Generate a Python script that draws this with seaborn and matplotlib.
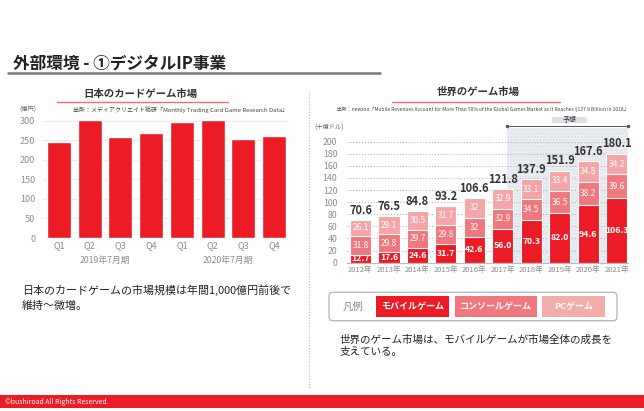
import matplotlib.pyplot as plt
import matplotlib.transforms as mtransforms
from matplotlib.patches import FancyBboxPatch, Rectangle
import numpy as np
import seaborn as sns

sns.set_theme(style='white')
plt.rcParams['font.family'] = ['Noto Sans CJK JP', 'DejaVu Sans']
plt.rcParams['hatch.linewidth'] = 0.5

# %% data
quarters = ['Q1', 'Q2', 'Q3', 'Q4', 'Q1', 'Q2', 'Q3', 'Q4']
periods = ['2019年7月期', '2020年7月期']
card_market = [246, 302, 258, 269, 297, 302, 252, 260]

years = ['2012年', '2013年', '2014年', '2015年', '2016年',
         '2017年', '2018年', '2019年', '2020年', '2021年']
mobile = [12.7, 17.6, 24.6, 31.7, 42.6, 56.0, 70.3, 82.0, 94.6, 106.3]
console = [31.8, 29.8, 29.7, 29.8, 32, 32.9, 34.5, 36.5, 38.2, 39.6]
pc = [26.1, 29.1, 30.5, 31.7, 32, 32.9, 33.1, 33.4, 34.8, 34.2]
totals = [70.6, 76.5, 84.8, 93.2, 106.6, 121.8, 137.9, 151.9, 167.6, 180.1]

RED = '#EC1C26'
CONSOLE = '#F0777D'
PC = '#F5A5A8'
GRAY = '#8C8C8C'

fig = plt.figure(figsize=(6.44, 4.11), dpi=100)
W, H = 644, 411

# %% left chart
axL = fig.add_axes([43 / W, 1 - 238 / H, 246 / W, 120 / H])
keys = [f'{periods[i // 4]} {q}' for i, q in enumerate(quarters)]
sns.barplot(x=keys, y=card_market, color=RED, saturation=1, width=0.78,
            errorbar=None, ax=axL, zorder=2)
axL.set_xlim(-0.52, 7.49)
axL.set_ylim(0, 307)
axL.set_yticks(range(0, 301, 50))
axL.set_xticks(range(8), quarters)
axL.grid(axis='y', color='#EBEBEB', lw=0.8)
axL.set_axisbelow(True)
axL.tick_params(axis='y', labelsize=6.5, colors=GRAY, length=0, pad=5.5)
axL.tick_params(axis='x', labelsize=6.5, colors=GRAY, length=0, pad=2)
axL.set_xlabel('')
axL.set_ylabel('')
for s in axL.spines.values():
    s.set_visible(False)
trL = mtransforms.blended_transform_factory(axL.transData, axL.transAxes)
for i, p in enumerate(periods):
    axL.text(1.5 + 4 * i, -0.185, p, transform=trL, ha='center', va='center',
             fontsize=6.3, color=GRAY)

# %% right chart (stacked by overlapping cumulative bars)
axR = fig.add_axes([347 / W, 1 - 262.7 / H, 281 / W, 134.7 / H])
cum2 = np.array(mobile) + np.array(console)
axR.axvspan(5.15, 9.4, facecolor='#E9ECF1', edgecolor='#D9DEE5',
            hatch='.....', lw=0, zorder=0)
for vals, col in [(totals, PC), (cum2, CONSOLE), (mobile, RED)]:
    sns.barplot(x=years, y=vals, color=col, saturation=1, width=0.74,
                errorbar=None, ax=axR, edgecolor='white', linewidth=0.8,
                zorder=2)
axR.set_xlim(-0.475, 9.4)
axR.set_ylim(0, 222.6)
axR.set_yticks(range(0, 201, 20))
axR.grid(axis='y', color='#AAAAAA', ls=(0, (1, 2)), lw=0.7)
axR.set_axisbelow(True)
axR.tick_params(axis='y', labelsize=6.3, colors=GRAY, length=0, pad=7)
axR.tick_params(axis='x', labelsize=5.5, colors=GRAY, length=0, pad=2.5)
axR.set_xlabel('')
axR.set_ylabel('')
for k, s in axR.spines.items():
    s.set_visible(k == 'bottom')
axR.spines['bottom'].set_color('#BBBBBB')
axR.spines['bottom'].set_linewidth(0.8)

for i in range(len(years)):
    axR.text(i, mobile[i] / 2, f'{mobile[i]:.1f}', ha='center', va='center',
             fontsize=6.3, color='white', fontweight='bold', zorder=5)
    axR.text(i, mobile[i] + console[i] / 2, f'{console[i]:g}', ha='center',
             va='center', fontsize=6, color='white', zorder=5)
    axR.text(i, cum2[i] + pc[i] / 2, f'{pc[i]:g}', ha='center', va='center',
             fontsize=6, color='white', zorder=5)
    axR.annotate(f'{totals[i]:.1f}', (i, totals[i]), xytext=(0, 2.5),
                 textcoords='offset points', ha='center', va='bottom',
                 fontsize=8, fontweight='bold', color='#333333', zorder=5)

# %% overlay in pixel coordinates
ov = fig.add_axes([0, 0, 1, 1], zorder=10)
ov.set_xlim(0, W)
ov.set_ylim(H, 0)
ov.axis('off')
ov.patch.set_visible(False)

ov.text(13, 64, '外部環境 - ①デジタルIP事業', ha='left', va='center',
        fontsize=12, fontweight='bold', color='#222222')
ov.plot([8, 380], [73, 73], color='#777777', lw=1.8)

ov.text(140, 93.5, '日本のカードゲーム市場', ha='center', va='center',
        fontsize=7.5, fontweight='bold', color='#333333')
ov.plot([57, 228], [102, 102], color='#F06E73', lw=1)
ov.text(28, 110, '(億円)', ha='center', va='center', fontsize=4.5, color='#666666')
ov.text(288, 110, '出所：メディアクリエイト総研「Monthly Trading Card Game Research Data」',
        ha='right', va='center', fontsize=4.3, color='#444444')

ov.plot([309, 309], [92, 388], color='#BBBBBB', ls=(0, (1, 1.5)), lw=0.8)

ov.text(22, 290, '日本のカードゲームの市場規模は年間1,000億円前後で',
        ha='left', va='center', fontsize=7.9, color='#222222')
ov.text(22, 306, '維持～微増。', ha='left', va='center', fontsize=7.9,
        color='#222222')

ov.text(478.5, 92.3, '世界のゲーム市場', ha='center', va='center',
        fontsize=7.5, fontweight='bold', color='#333333')
ov.plot([392, 560], [101.7, 101.7], color='#F06E73', lw=1)
ov.text(337, 109, '出所：newzoo「Mobile Revenues Account for More Than 50% of the Global '
        'Games Market as It Reaches $137.9 Billion in 2018」',
        ha='left', va='center', fontsize=3.5, color='#444444')
ov.text(329.5, 128, '(十億ドル)', ha='center', va='center', fontsize=4.5,
        color='#666666')

ov.plot([507, 628], [125.7, 125.7], color='#555555', lw=0.7, marker='o',
        markersize=1.5)
ov.add_patch(Rectangle((552, 116.7), 35, 6.8, fc='#DDE2EA', ec='none'))
ov.text(569.5, 120, '予想', ha='center', va='center', fontsize=5,
        color='#333333')

ov.add_patch(FancyBboxPatch((329, 292.3), 288, 28.4,
                            boxstyle='round,pad=0,rounding_size=4',
                            fc='white', ec='#BBBBBB', lw=1))
ov.text(352.7, 306.5, '凡例', ha='center', va='center', fontsize=7.5,
        color='#888888')
legend_items = [('モバイルゲーム', RED, 375.7, 73.6),
                ('コンソールゲーム', CONSOLE, 455, 81.7),
                ('PCゲーム', '#F2ACA9', 542.3, 62.7)]
for label, col, x0, w in legend_items:
    ov.add_patch(Rectangle((x0, 296), w, 21.3, fc=col, ec='none'))
    ov.text(x0 + w / 2, 306.7, label, ha='center', va='center', fontsize=6.5,
            fontweight='bold', color='white')

ov.text(340, 340, '世界のゲーム市場は、モバイルゲームが市場全体の成長を',
        ha='left', va='center', fontsize=7.6, color='#222222')
ov.text(340, 352, '支えている。', ha='left', va='center', fontsize=7.6,
        color='#222222')

ov.add_patch(Rectangle((0, 395), W, 13.3, fc=RED, ec='none'))
ov.text(5, 401.7, '©bushiroad All Rights Reserved.', ha='left', va='center',
        fontsize=5, color='white')

fig.savefig('out.png', dpi=100)
